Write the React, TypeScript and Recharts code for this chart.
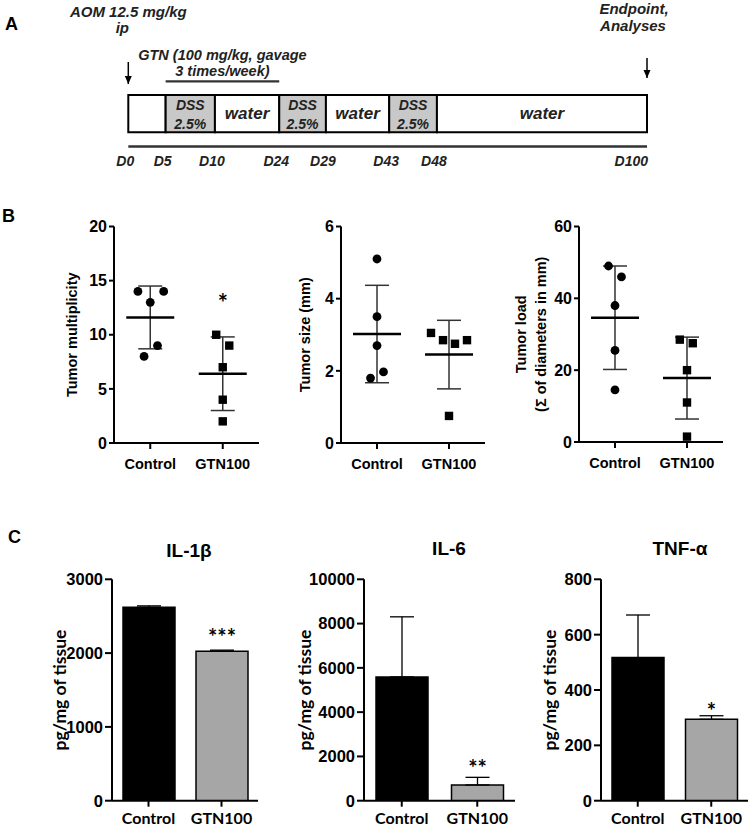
import React from 'react'
import {
  Bar,
  BarChart,
  Cell,
  ErrorBar,
  Label,
  LabelList,
  ReferenceArea,
  ReferenceLine,
  Scatter,
  ScatterChart,
  XAxis,
  YAxis,
} from 'recharts'

const ARIAL = "'Liberation Sans', Arial, sans-serif"
const CALIBRI = "Lato, 'Open Sans', sans-serif"

// ---- Panel A: treatment schedule (schematic, segments are not to scale) ----
const dayLabels = ['D0', 'D5', 'D10', 'D24', 'D29', 'D43', 'D48', 'D100']
const dayPos = [0, 7.2, 16.7, 29.1, 38.1, 50.3, 59.5, 100]
const phaseText = [[], ['DSS', '2.5%'], ['water'], ['DSS', '2.5%'], ['water'], ['DSS', '2.5%'], ['water']]
const phaseIsDss = [false, true, false, true, false, true, false]

// ---- Panel B: tumours per mouse ----
const groups = ['Control', 'GTN100']

const multControl = [14, 14, 13, 9, 8]
const multGtn = [10, 9, 7, 4, 2]
const multJitterControl = [-0.17, 0.185, 0, 0.1, -0.085]
const multJitterGtn = [-0.09, 0.09, 0, 0, 0]
const multMean = [11.6, 6.4]
const multSd = [2.9, 3.4]
const multSig = ['', '*']

const sizeControl = [5.1, 3.5, 2.7, 1.8, 1.97]
const sizeGtn = [3.05, 2.85, 2.75, 2.85, 0.75]
const sizeJitterControl = [0, 0, 0, -0.09, 0.09]
const sizeJitterGtn = [-0.25, -0.083, 0.083, 0.25, 0]
const sizeMean = [3.02, 2.45]
const sizeSd = [1.35, 0.95]

const loadControl = [49, 46, 38, 25.5, 14.5]
const loadGtn = [28.5, 27.5, 20, 11, 1.5]
const loadJitterControl = [-0.09, 0.09, 0, 0, 0]
const loadJitterGtn = [-0.1, 0.08, 0, 0, 0]
const loadMean = [34.6, 17.8]
const loadSd = [14.4, 11.4]

// ---- Panel C: cytokines ----
const il1bMean = [2620, 2025]
const il1bErr = [20, 15]
const il1bSig = ['', '***']

const il6Mean = [5590, 710]
const il6Err = [2715, 345]
const il6Sig = ['', '**']

const tnfMean = [517, 294]
const tnfErr = [154, 13]
const tnfSig = ['', '*']

const barFill = ['#000000', '#a6a6a6']

type TitleLine = { text: string; x: number }

function yTitle(lines: TitleLine[], font: string, size: number) {
  return (props: any) => {
    const vb = props.viewBox || {}
    const cy = (vb.y ?? 0) + (vb.height ?? 0) / 2
    return (
      <g>
        {lines.map((l) => (
          <text
            key={l.text}
            x={l.x}
            y={cy}
            transform={`rotate(-90 ${l.x} ${cy})`}
            textAnchor="middle"
            dominantBaseline="central"
            fontFamily={font}
            fontSize={size}
            fontWeight={700}
            fill="#000"
          >
            {l.text}
          </text>
        ))}
      </g>
    )
  }
}

const Dot = (p: any) => <circle cx={p.cx} cy={p.cy} r={4.4} fill="#000" />
const Square = (p: any) => <rect x={p.cx - 4.2} y={p.cy - 4.2} width={8.4} height={8.4} fill="#000" />
const Hidden = () => <g />

function Schedule() {
  const textStyle = { fontFamily: ARIAL, fontWeight: 700, fontStyle: 'italic' as const, fill: '#222' }

  const DayTick = (p: any) => {
    const last = p.index === dayLabels.length - 1
    return (
      <text x={p.x + (last ? 1 : -3)} y={p.y + 19.5} textAnchor={last ? 'end' : 'middle'} fontSize={14} {...textStyle}>
        {dayLabels[p.index]}
      </text>
    )
  }

  const phaseLabel = (lines: string[]) => (props: any) => {
    const vb = props.viewBox || {}
    const cx = vb.x + vb.width / 2
    if (lines.length === 2) {
      return (
        <g>
          <text x={cx} y={vb.y + 15} textAnchor="middle" fontSize={14} {...textStyle}>{lines[0]}</text>
          <text x={cx} y={vb.y + 34} textAnchor="middle" fontSize={14} {...textStyle}>{lines[1]}</text>
        </g>
      )
    }
    if (lines.length === 1) {
      return <text x={cx} y={vb.y + 24} textAnchor="middle" fontSize={17} {...textStyle}>{lines[0]}</text>
    }
    return null
  }

  const arrowLabel = (lines: string[], dx: number[], lift: number[]) => (props: any) => {
    const vb = props.viewBox || {}
    const x = vb.x
    const tip = vb.y + vb.height
    return (
      <g>
        <polygon points={`${x - 3.5},${tip - 8} ${x + 3.5},${tip - 8} ${x},${tip}`} fill="#000" />
        {lines.map((t, i) => (
          <text key={t} x={x + dx[i]} y={vb.y - lift[i]} textAnchor="middle" fontSize={15} {...textStyle}>{t}</text>
        ))}
      </g>
    )
  }

  const gtnLabel = (props: any) => {
    const vb = props.viewBox || {}
    const cx = vb.x + vb.width / 2
    return (
      <g>
        <text x={cx} y={vb.y - 21.5} textAnchor="middle" fontSize={14.5} {...textStyle}>GTN (100 mg/kg, gavage</text>
        <text x={cx} y={vb.y - 5} textAnchor="middle" fontSize={14.5} {...textStyle}>3 times/week)</text>
      </g>
    )
  }

  return (
    <div style={{ position: 'absolute', left: 0, top: 0, width: 750, height: 175 }}>
      <ScatterChart width={750} height={175} margin={{ top: 0, right: 103, bottom: 0, left: 128.3 }}>
        <XAxis
          type="number"
          dataKey="x"
          domain={[0, 100]}
          ticks={dayPos}
          interval={0}
          height={28.5}
          tickSize={0}
          tickMargin={0}
          tickLine={false}
          axisLine={{ stroke: '#333', strokeWidth: 2.5 }}
          tick={(p: any) => <DayTick {...p} />}
          allowDataOverflow
        />
        <YAxis type="number" dataKey="y" domain={[0, 10]} hide width={0} allowDataOverflow />
        {phaseText.map((lines, i) => (
          <ReferenceArea
            key={i}
            x1={dayPos[i]}
            x2={dayPos[i + 1]}
            y1={0.97}
            y2={3.52}
            fill={phaseIsDss[i] ? '#c8c8c8' : '#ffffff'}
            fillOpacity={1}
            stroke="#000"
            strokeWidth={2}
            ifOverflow="visible"
            label={<Label content={phaseLabel(lines)} />}
          />
        ))}
        <ReferenceLine
          segment={[{ x: dayPos[1], y: 4.45 }, { x: dayPos[3], y: 4.45 }]}
          stroke="#333"
          strokeWidth={2.2}
          ifOverflow="visible"
          label={<Label content={gtnLabel} />}
        />
        <ReferenceLine
          segment={[{ x: 0, y: 5.77 }, { x: 0, y: 4.27 }]}
          stroke="#000"
          strokeWidth={1.5}
          ifOverflow="visible"
          label={<Label content={arrowLabel(['AOM 12.5 mg/kg', 'ip'], [0, -6], [44.7, 29])} />}
        />
        <ReferenceLine
          segment={[{ x: 100, y: 6.04 }, { x: 100, y: 4.68 }]}
          stroke="#000"
          strokeWidth={1.5}
          ifOverflow="visible"
          label={<Label content={arrowLabel(['Endpoint,', 'Analyses'], [-13, -14], [44, 27])} />}
        />
        <Scatter data={dayPos.map((x) => ({ x, y: 0 }))} shape={Hidden} isAnimationActive={false} />
      </ScatterChart>
    </div>
  )
}

function DotPanel(props: {
  left: number
  width: number
  axisX: number
  axisEnd: number
  plotBottom: number
  yMax: number
  yTicks: number[]
  control: number[]
  gtn: number[]
  jitterControl: number[]
  jitterGtn: number[]
  mean: number[]
  sd: number[]
  sig?: string[]
  titles: TitleLine[]
}) {
  const top = 190
  const height = 300
  const plotTop = 226.5
  const sig = props.sig || ['', '']
  const controlPts = props.control.map((v, i) => ({ x: 1 + props.jitterControl[i], y: v }))
  const gtnPts = props.gtn.map((v, i) => ({ x: 2 + props.jitterGtn[i], y: v }))
  const summary = props.mean.map((m, i) => ({ x: i + 1, y: m, sd: props.sd[i], sig: sig[i] }))

  const MeanLine = (p: any) => (
    <g>
      <line x1={p.cx - 24} x2={p.cx + 24} y1={p.cy} y2={p.cy} stroke="#000" strokeWidth={2.5} />
      {p.payload?.sig ? (
        <text x={p.cx} y={p.cy - 61.5} textAnchor="middle" fontFamily={CALIBRI} fontWeight={700} fontSize={24} fill="#000">
          {p.payload.sig}
        </text>
      ) : null}
    </g>
  )

  return (
    <div style={{ position: 'absolute', left: props.left, top, width: props.width, height }}>
      <ScatterChart
        width={props.width}
        height={height}
        margin={{ top: plotTop - top, right: props.left + props.width - props.axisEnd, bottom: 0, left: 0 }}
      >
        <XAxis
          type="number"
          dataKey="x"
          domain={[0.5, 2.5]}
          ticks={[1, 2]}
          interval={0}
          tickFormatter={(v) => groups[v - 1]}
          height={top + height - props.plotBottom}
          tickSize={6}
          tickMargin={10}
          axisLine={{ stroke: '#000', strokeWidth: 2 }}
          tickLine={{ stroke: '#000', strokeWidth: 2 }}
          tick={{ fill: '#000', fontSize: 14.5, fontWeight: 700, fontFamily: ARIAL }}
          allowDataOverflow
        />
        <YAxis
          type="number"
          dataKey="y"
          domain={[0, props.yMax]}
          ticks={props.yTicks}
          interval={0}
          width={props.axisX - props.left}
          tickSize={5}
          tickMargin={2}
          axisLine={{ stroke: '#000', strokeWidth: 2 }}
          tickLine={{ stroke: '#000', strokeWidth: 2 }}
          tick={{ fill: '#000', fontSize: 16, fontWeight: 700, fontFamily: ARIAL }}
          label={<Label content={yTitle(props.titles, ARIAL, 14.5)} />}
          allowDataOverflow
        />
        <Scatter data={summary} shape={MeanLine} isAnimationActive={false}>
          <ErrorBar dataKey="sd" direction="y" width={12} stroke="#333" strokeWidth={1.5} />
        </Scatter>
        <Scatter data={controlPts} shape={Dot} isAnimationActive={false} />
        <Scatter data={gtnPts} shape={Square} isAnimationActive={false} />
      </ScatterChart>
    </div>
  )
}

function CytokinePanel(props: {
  left: number
  width: number
  axisX: number
  axisEnd: number
  yMax: number
  yTicks: number[]
  mean: number[]
  err: number[]
  sig: string[]
  sigLift: number
  titleX: number
}) {
  const top = 540
  const height = 286
  const plotTop = 579.3
  const plotBottom = 800.7
  const data = groups.map((g, i) => ({ name: g, value: props.mean[i], err: [0, props.err[i]], sig: props.sig[i] }))

  const sigLabel = (p: any) => {
    if (!p.value) return null
    return (
      <text
        x={p.x + p.width / 2}
        y={p.y - props.sigLift}
        textAnchor="middle"
        fontFamily={CALIBRI}
        fontWeight={700}
        fontSize={22}
        fill="#000"
      >
        {p.value}
      </text>
    )
  }

  return (
    <div style={{ position: 'absolute', left: props.left, top, width: props.width, height }}>
      <BarChart
        width={props.width}
        height={height}
        data={data}
        barSize={52}
        margin={{ top: plotTop - top, right: props.left + props.width - props.axisEnd, bottom: 0, left: 0 }}
      >
        <XAxis
          dataKey="name"
          height={top + height - plotBottom}
          tickSize={6}
          tickMargin={6}
          axisLine={{ stroke: '#000', strokeWidth: 2 }}
          tickLine={{ stroke: '#000', strokeWidth: 2 }}
          tick={{ fill: '#000', fontSize: 16, fontWeight: 700, fontFamily: CALIBRI }}
        />
        <YAxis
          type="number"
          domain={[0, props.yMax]}
          ticks={props.yTicks}
          interval={0}
          width={props.axisX - props.left}
          tickSize={7}
          tickMargin={2}
          axisLine={{ stroke: '#000', strokeWidth: 2 }}
          tickLine={{ stroke: '#000', strokeWidth: 2 }}
          tick={{ fill: '#000', fontSize: 16.5, fontWeight: 700, fontFamily: ARIAL }}
          label={<Label content={yTitle([{ text: 'pg/mg of tissue', x: props.titleX }], CALIBRI, 17.5)} />}
          allowDataOverflow
        />
        <Bar dataKey="value" stroke="#000" strokeWidth={1.5} isAnimationActive={false}>
          {data.map((d, i) => (
            <Cell key={d.name} fill={barFill[i]} />
          ))}
          <ErrorBar dataKey="err" width={12} stroke="#000" strokeWidth={1.3} />
          <LabelList dataKey="sig" content={sigLabel} />
        </Bar>
      </BarChart>
    </div>
  )
}

export default function App() {
  const letter = { fontFamily: ARIAL, fontWeight: 700, fontSize: 18, fill: '#000' }
  const title = { fontFamily: ARIAL, fontWeight: 700, fontSize: 19, fill: '#000', textAnchor: 'middle' as const }
  return (
    <div
      style={{
        position: 'absolute',
        left: 0,
        top: 0,
        width: 750,
        height: 826,
        background: '#fff',
        overflow: 'hidden',
      }}
    >
      <Schedule />

      <DotPanel
        left={0}
        width={270}
        axisX={114}
        axisEnd={259}
        plotBottom={443}
        yMax={20}
        yTicks={[0, 5, 10, 15, 20]}
        control={multControl}
        gtn={multGtn}
        jitterControl={multJitterControl}
        jitterGtn={multJitterGtn}
        mean={multMean}
        sd={multSd}
        sig={multSig}
        titles={[{ text: 'Tumor multiplicity', x: 72 }]}
      />
      <DotPanel
        left={250}
        width={250}
        axisX={341}
        axisEnd={485}
        plotBottom={443}
        yMax={6}
        yTicks={[0, 2, 4, 6]}
        control={sizeControl}
        gtn={sizeGtn}
        jitterControl={sizeJitterControl}
        jitterGtn={sizeJitterGtn}
        mean={sizeMean}
        sd={sizeSd}
        titles={[{ text: 'Tumor size (mm)', x: 55 }]}
      />
      <DotPanel
        left={490}
        width={250}
        axisX={579}
        axisEnd={723}
        plotBottom={442}
        yMax={60}
        yTicks={[0, 20, 40, 60]}
        control={loadControl}
        gtn={loadGtn}
        jitterControl={loadJitterControl}
        jitterGtn={loadJitterGtn}
        mean={loadMean}
        sd={loadSd}
        titles={[
          { text: 'Tumor load', x: 31 },
          { text: '(Σ of diameters in mm)', x: 51 },
        ]}
      />

      <CytokinePanel
        left={0}
        width={270}
        axisX={112}
        axisEnd={258}
        yMax={3000}
        yTicks={[0, 1000, 2000, 3000]}
        mean={il1bMean}
        err={il1bErr}
        sig={il1bSig}
        sigLift={6.7}
        titleX={59}
      />
      <CytokinePanel
        left={250}
        width={270}
        axisX={364}
        axisEnd={515}
        yMax={10000}
        yTicks={[0, 2000, 4000, 6000, 8000, 10000]}
        mean={il6Mean}
        err={il6Err}
        sig={il6Sig}
        sigLift={9}
        titleX={54}
      />
      <CytokinePanel
        left={490}
        width={260}
        axisX={601}
        axisEnd={748}
        yMax={800}
        yTicks={[0, 200, 400, 600, 800]}
        mean={tnfMean}
        err={tnfErr}
        sig={tnfSig}
        sigLift={0.6}
        titleX={59}
      />

      <svg width={750} height={826} style={{ position: 'absolute', left: 0, top: 0, pointerEvents: 'none' }}>
        <text x={5} y={30} {...letter}>A</text>
        <text x={2} y={222} {...letter}>B</text>
        <text x={8} y={543} {...letter}>C</text>
        <text x={189} y={556.5} {...title}>IL-1β</text>
        <text x={449} y={554.5} {...title}>IL-6</text>
        <text x={680} y={554.5} {...title}>TNF-α</text>
      </svg>
    </div>
  )
}
